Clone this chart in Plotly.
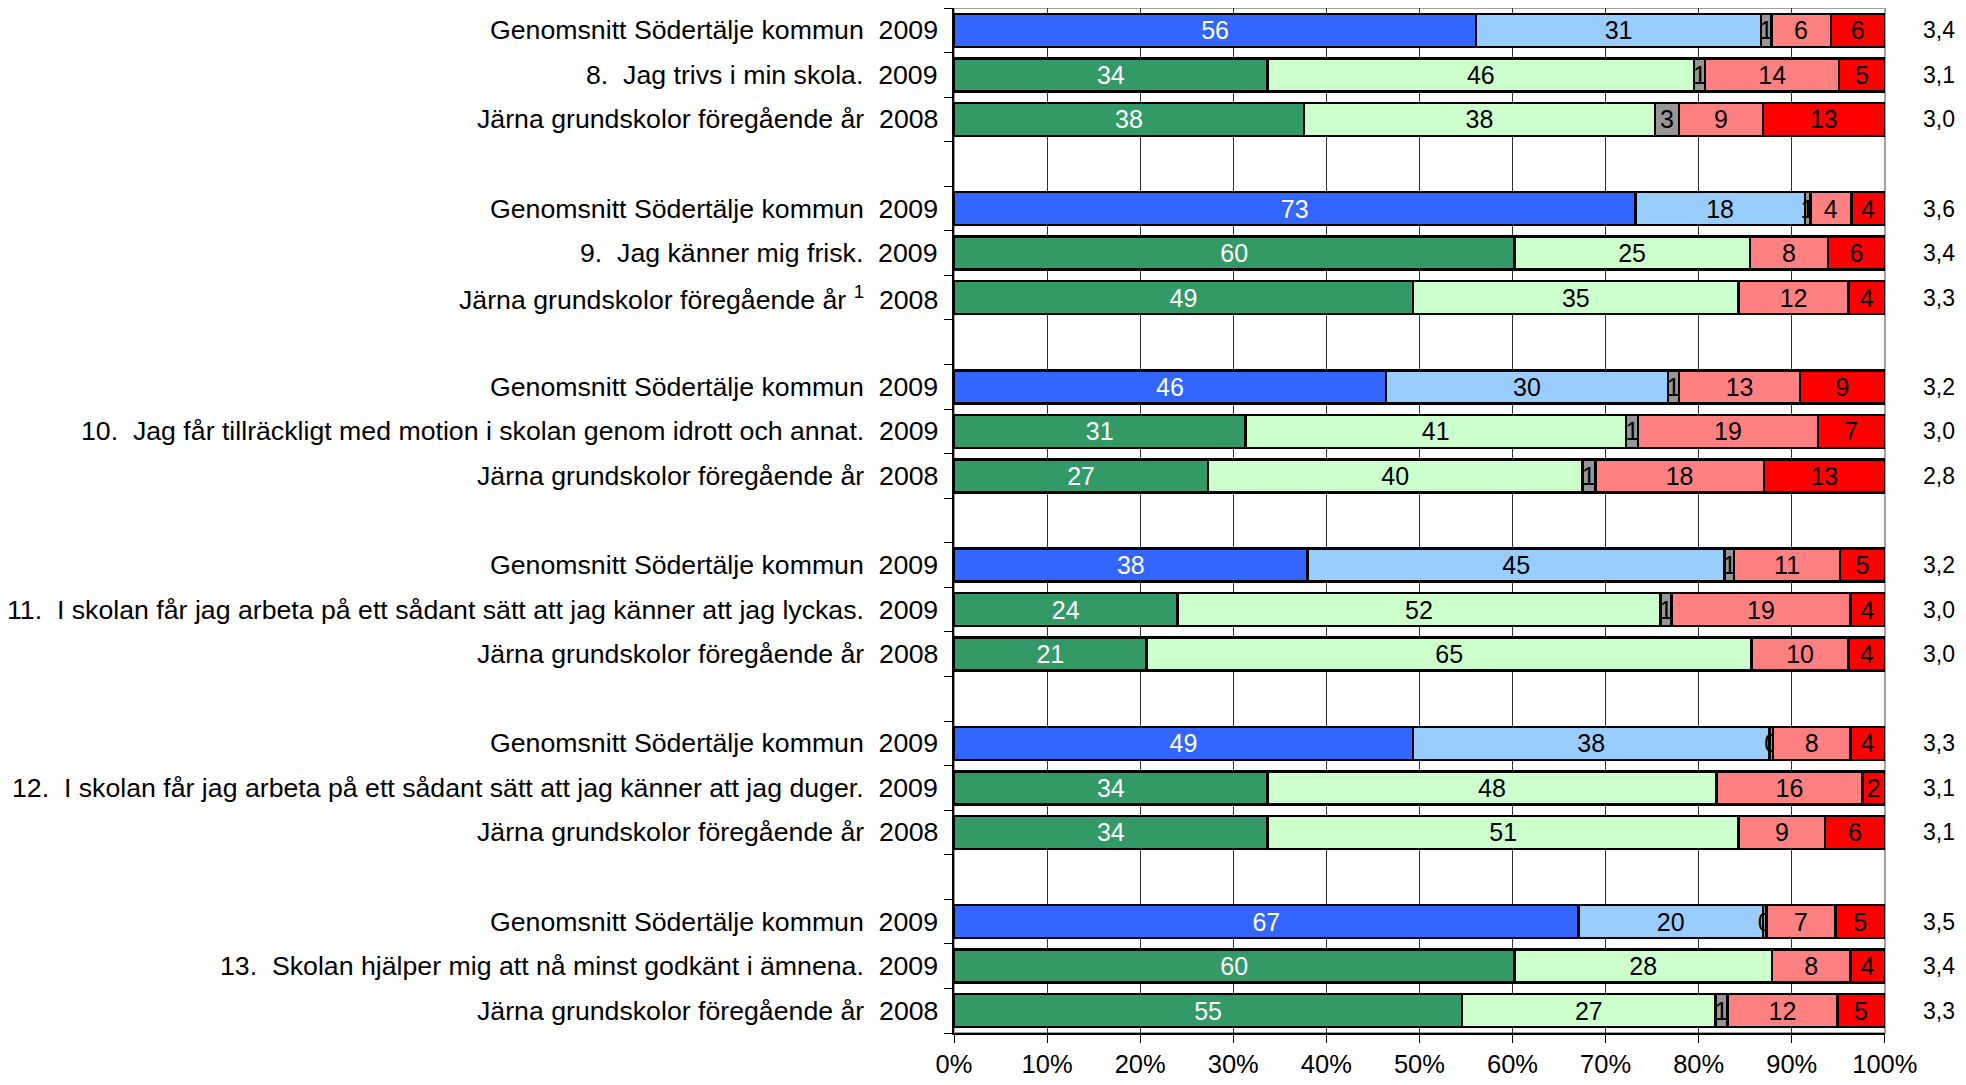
import plotly.graph_objects as go

# ---- data ----
row_labels = [
    "Genomsnitt Södertälje kommun  2009",
    "8.  Jag trivs i min skola.  2009",
    "Järna grundskolor föregående år  2008",
    "Genomsnitt Södertälje kommun  2009",
    "9.  Jag känner mig frisk.  2009",
    "Järna grundskolor föregående år <sup>1</sup>  2008",
    "Genomsnitt Södertälje kommun  2009",
    "10.  Jag får tillräckligt med motion i skolan genom idrott och annat.  2009",
    "Järna grundskolor föregående år  2008",
    "Genomsnitt Södertälje kommun  2009",
    "11.  I skolan får jag arbeta på ett sådant sätt att jag känner att jag lyckas.  2009",
    "Järna grundskolor föregående år  2008",
    "Genomsnitt Södertälje kommun  2009",
    "12.  I skolan får jag arbeta på ett sådant sätt att jag känner att jag duger.  2009",
    "Järna grundskolor föregående år  2008",
    "Genomsnitt Södertälje kommun  2009",
    "13.  Skolan hjälper mig att nå minst godkänt i ämnena.  2009",
    "Järna grundskolor föregående år  2008",
]
row_kind = ["kommun", "skola", "skola"] * 6
row_slot = [0, 1, 2, 4, 5, 6, 8, 9, 10, 12, 13, 14, 16, 17, 18, 20, 21, 22]

stammer_helt = [56.1, 33.7, 37.6, 73.2, 60.2, 49.3, 46.4, 31.3, 27.3,
                38.0, 24.0, 20.7, 49.3, 33.7, 33.7, 67.1, 60.2, 54.6]
stammer_ganska_bra = [30.6, 45.8, 37.7, 18.2, 25.3, 35.0, 30.3, 40.9, 40.2,
                      44.8, 51.9, 65.0, 38.3, 48.2, 50.6, 19.8, 27.7, 27.2]
vet_ej = [1.1, 1.2, 2.6, 0.6, 0.0, 0.0, 1.2, 1.3, 1.4,
          1.0, 1.2, 0.0, 0.4, 0.0, 0.0, 0.4, 0.0, 1.3]
stammer_ganska_daligt = [6.4, 14.4, 9.0, 4.4, 8.4, 11.8, 13.0, 19.3, 18.1,
                         11.4, 19.2, 10.4, 8.3, 15.7, 9.3, 7.4, 8.4, 11.8]
stammer_inte_alls = [5.8, 4.9, 13.1, 3.6, 6.1, 3.9, 9.1, 7.2, 13.0,
                     4.8, 3.7, 3.9, 3.7, 2.4, 6.4, 5.3, 3.7, 5.1]
medelvarde = ["3,4", "3,1", "3,0", "3,6", "3,4", "3,3", "3,2", "3,0", "2,8",
              "3,2", "3,0", "3,0", "3,3", "3,1", "3,1", "3,5", "3,4", "3,3"]

x_ticks = [0, 10, 20, 30, 40, 50, 60, 70, 80, 90, 100]
x_ticklabels = [f"{t}%" for t in x_ticks]

# ---- styling ----
FONT = "Liberation Sans, Arial, sans-serif"
FS_LAB = 26.7
FS_VAL = 23
FS_BAR = 25
FS_AX = 25.5
col_dark = {"kommun": "#3366FF", "skola": "#339966"}
col_light = {"kommun": "#99CCFF", "skola": "#CCFFCC"}

series = [
    ("Stämmer helt", stammer_helt, [col_dark[k] for k in row_kind], "white"),
    ("Stämmer ganska bra", stammer_ganska_bra, [col_light[k] for k in row_kind], "black"),
    ("Vet ej", vet_ej, ["#969696"] * len(row_kind), "black"),
    ("Stämmer ganska dåligt", stammer_ganska_daligt, ["#FF8080"] * len(row_kind), "black"),
    ("Stämmer inte alls", stammer_inte_alls, ["#FF0000"] * len(row_kind), "black"),
]

fig = go.Figure()
for name, vals, colors, tcol in series:
    fig.add_trace(go.Bar(
        name=name,
        y=row_slot,
        x=vals,
        orientation="h",
        width=0.74,
        marker=dict(color=colors, line=dict(color="black", width=2.5)),
        text=[f"{v:.0f}" if v > 0 else None for v in vals],
        textposition="inside",
        insidetextanchor="middle",
        textangle=0,
        textfont=dict(family=FONT, size=FS_BAR, color=tcol),
        cliponaxis=False,
        hoverinfo="skip",
    ))

# page body has an 8px margin; figure is sized to fit the window inside it
OFF = 8
W, H = 1966 - 2 * OFF, 1085 - 2 * OFF
L = 954 - OFF
R = W - (1885 - OFF)
T = 0
B = H - (1033 - OFF)
pw = W - L - R

for lab, slot, mv in zip(row_labels, row_slot, medelvarde):
    fig.add_annotation(
        xref="paper", yref="y", x=(940 - 954) / pw, y=slot,
        text=lab, showarrow=False, xanchor="right", yanchor="middle",
        font=dict(family=FONT, size=FS_LAB, color="black"),
    )
    fig.add_annotation(
        xref="paper", yref="y", x=(1957 - 954) / pw, y=slot,
        text=mv, showarrow=False, xanchor="right", yanchor="middle",
        font=dict(family=FONT, size=FS_VAL, color="black"),
    )

# plot-area border (top / right in gray)
fig.add_shape(type="rect", xref="paper", yref="paper", x0=0, x1=1, y0=0, y1=1,
              line=dict(color="#A0A0A0", width=2), layer="below")

fig.update_layout(
    width=W, height=H,
    barmode="stack",
    showlegend=False,
    plot_bgcolor="white",
    paper_bgcolor="white",
    margin=dict(l=L, r=R, t=T, b=B, autoexpand=False),
    uniformtext=dict(minsize=FS_BAR, mode="show"),
    font=dict(family=FONT, size=FS_AX, color="black"),
    xaxis=dict(
        range=[0, 100.02],
        tickvals=x_ticks,
        ticktext=x_ticklabels,
        showgrid=True,
        gridcolor="#303030",
        gridwidth=1,
        zeroline=False,
        showline=True,
        linecolor="black",
        linewidth=1.5,
        ticks="outside",
        ticklen=8,
        tickcolor="black",
        automargin=False,
        tickfont=dict(family=FONT, size=FS_AX, color="black"),
        fixedrange=True,
    ),
    yaxis=dict(
        range=[22.5, -0.5],
        tickvals=[i - 0.5 for i in range(24)],
        showticklabels=False,
        ticks="outside",
        ticklen=8,
        tickcolor="black",
        showgrid=False,
        zeroline=False,
        showline=True,
        linecolor="black",
        linewidth=1.5,
        automargin=False,
        fixedrange=True,
    ),
)

fig.write_html("out.html")
